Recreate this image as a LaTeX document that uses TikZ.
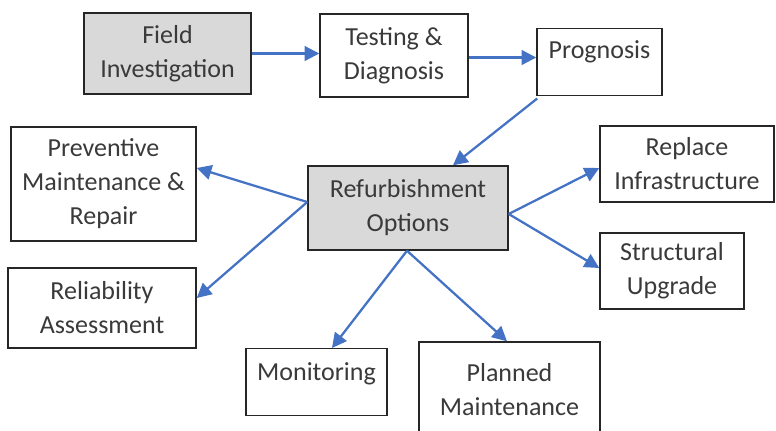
\documentclass[tikz,border=0pt]{standalone}
\usepackage{fontspec}
\setmainfont{Carlito}
\usetikzlibrary{arrows.meta}
\definecolor{flowblue}{HTML}{4472C4}
\definecolor{boxgray}{HTML}{D9D9D9}
\definecolor{inkgray}{HTML}{3A3A3A}
\tikzset{
  stepbox/.style={draw=black!85, line width=1.1pt, fill=white, inner sep=0pt,
    align=center, text=inkgray, font=\fontsize{19.5}{25.5}\selectfont},
  mainbox/.style={stepbox, fill=boxgray},
  flow/.style={draw=flowblue, line width=1.7pt, -{Triangle[length=11pt,width=11pt]}}
}
\begin{document}
\begin{tikzpicture}[x=0.75pt,y=-0.75pt]%
    \useasboundingbox (0,0) rectangle (776,430);%
    % top row
    \node[mainbox, minimum width=125.25pt, minimum height=60.75pt] (field) at (167.5,53.5) {Field\\Investigation};%
    \node[stepbox, minimum width=111pt, minimum height=62.25pt] (testing) at (394,55.5) {Testing \&\\Diagnosis};%
    \node[stepbox, minimum width=93.75pt, text height=22.5pt, text depth=27.75pt, anchor=north] (prognosis) at (599.5,28) {Prognosis};%
    % centre
    \node[mainbox, minimum width=150pt, minimum height=63pt] (refurb) at (408,208) {Refurbishment\\Options};%
    % left
    \node[stepbox, minimum width=138.75pt, minimum height=85.5pt] (prevent) at (103.5,184) {Preventive\\Maintenance \&\\Repair};%
    \node[stepbox, minimum width=141pt, minimum height=60pt] (reliab) at (102,308) {Reliability\\Assessment};%
    % right
    \node[stepbox, minimum width=130.5pt, minimum height=57pt] (replace) at (687,164) {Replace\\Infrastructure};%
    \node[stepbox, minimum width=108pt, minimum height=57pt] (struct) at (672,271) {Structural\\Upgrade};%
    % bottom
    \node[stepbox, minimum width=105.75pt, text height=24pt, text depth=26.25pt, anchor=north] (monitor) at (316.5,348) {Monitoring};%
    \node[stepbox, minimum width=135.75pt, minimum height=72pt] (planned) at (509.5,390) {Planned\\Maintenance};%
    % connectors
    \draw[flow] (field) -- (field -| testing.west);%
    \draw[flow] ([yshift=-1.5pt]testing.east) -- ([yshift=-1.5pt]testing.east -| prognosis.west);%
    \draw[flow] ([xshift=0.75pt,yshift=-1.5pt]prognosis.south west) -- ([xshift=33.75pt]refurb.north);%
    \draw[flow] ([yshift=4.5pt]refurb.west) -- ([yshift=12pt]prevent.east);%
    \draw[flow] ([yshift=4.5pt]refurb.west) -- ([yshift=7.5pt]reliab.east);%
    \draw[flow] ([yshift=-4.5pt]refurb.east) -- ([yshift=-3pt]replace.west);%
    \draw[flow] ([yshift=-4.5pt]refurb.east) -- ([yshift=2.25pt]struct.west);%
    \draw[flow] ([xshift=-0.75pt]refurb.south) -- ([xshift=11.6pt]monitor.north);%
    \draw[flow] ([xshift=-0.75pt]refurb.south) -- ([xshift=-1.9pt]planned.north);%
\end{tikzpicture}
\end{document}
